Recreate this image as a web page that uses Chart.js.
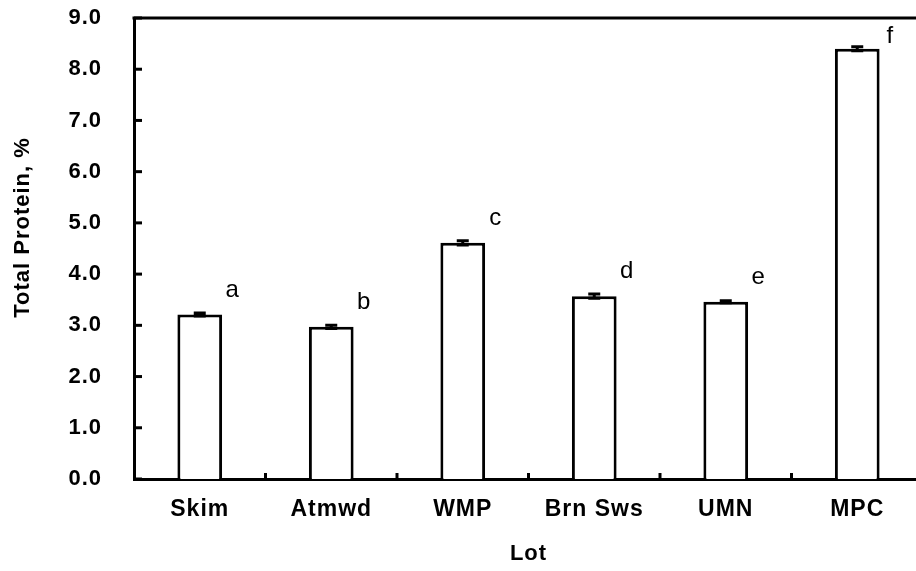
<!DOCTYPE html>
<html>
<head>
<meta charset="utf-8">
<title>Total Protein by Lot</title>
<script src="https://cdn.jsdelivr.net/npm/chart.js@4/dist/chart.umd.min.js"></script>
<style>
  html, body { margin: 0; padding: 0; background: #fff; overflow: hidden; }
  #wrap { width: 930px; height: 571px; }
</style>
</head>
<body>
<div id="wrap"><canvas id="proteinChart" width="930" height="571"></canvas></div>
<script>
// Total protein per lot, with standard error and significance letters
const lots = ['Skim', 'Atmwd', 'WMP', 'Brn Sws', 'UMN', 'MPC'];
const protein = [3.21, 2.97, 4.61, 3.57, 3.46, 8.40];
const proteinErr = [0.03, 0.03, 0.04, 0.04, 0.02, 0.04];
const groupLetters = ['a', 'b', 'c', 'd', 'e', 'f'];
const yTicks = [0, 1, 2, 3, 4, 5, 6, 7, 8, 9];
const yTitle = 'Total Protein, %';

const FONT = '"Liberation Sans", Arial, Helvetica, sans-serif';

// slightly wide lettering for all text on the canvas
const spacing = {
  id: 'spacing',
  beforeInit(chart) { chart.ctx.letterSpacing = '1px'; },
  beforeDraw(chart) { chart.ctx.letterSpacing = '1px'; }
};

// error bars, letters, inward ticks, y title and the top frame line
const extras = {
  id: 'extras',
  afterDatasetsDraw(chart) {
    const ctx = chart.ctx;
    const x = chart.scales.x;
    const y = chart.scales.y;
    const area = chart.chartArea;
    const meta = chart.getDatasetMeta(0);

    ctx.save();
    ctx.strokeStyle = '#000';
    ctx.lineCap = 'butt';

    // error bars
    ctx.lineWidth = 3;
    meta.data.forEach((bar, i) => {
      const cx = bar.x;
      const hi = y.getPixelForValue(protein[i] + proteinErr[i]);
      const lo = y.getPixelForValue(protein[i] - proteinErr[i]);
      ctx.beginPath();
      ctx.moveTo(cx, hi); ctx.lineTo(cx, lo);
      ctx.moveTo(cx - 6, hi); ctx.lineTo(cx + 6, hi);
      ctx.moveTo(cx - 6, lo); ctx.lineTo(cx + 6, lo);
      ctx.stroke();
    });

    // significance letters
    ctx.fillStyle = '#000';
    ctx.font = '24px ' + FONT;
    ctx.textAlign = 'center';
    ctx.textBaseline = 'alphabetic';
    meta.data.forEach((bar, i) => {
      const top = y.getPixelForValue(protein[i]);
      const ty = Math.max(top - 18, area.top + 25);
      ctx.fillText(groupLetters[i], bar.x + 33, ty);
    });

    // y ticks pointing into the plot
    ctx.lineWidth = 3;
    yTicks.forEach(v => {
      const py = y.getPixelForValue(v);
      ctx.beginPath();
      ctx.moveTo(area.left, py);
      ctx.lineTo(area.left + 8, py);
      ctx.stroke();
    });

    // x ticks between categories
    for (let i = 1; i < lots.length; i++) {
      const px = (x.getPixelForValue(i - 1) + x.getPixelForValue(i)) / 2;
      ctx.beginPath();
      ctx.moveTo(px, area.bottom);
      ctx.lineTo(px, area.bottom - 6);
      ctx.stroke();
    }

    // top frame line
    ctx.beginPath();
    ctx.moveTo(area.left - 1.5, area.top);
    ctx.lineTo(area.right, area.top);
    ctx.stroke();

    // y axis title, sitting a little above the middle of the axis
    ctx.translate(23, (area.top + area.bottom) / 2 - 21);
    ctx.rotate(-Math.PI / 2);
    ctx.font = 'bold 22px ' + FONT;
    ctx.textAlign = 'center';
    ctx.textBaseline = 'middle';
    ctx.fillText(yTitle, 0, 0);
    ctx.restore();
  }
};

new Chart(document.getElementById('proteinChart'), {
  type: 'bar',
  data: {
    labels: lots,
    datasets: [{
      label: 'Total Protein',
      data: protein,
      backgroundColor: '#fff',
      borderColor: '#000',
      borderWidth: { top: 3, left: 3, right: 3, bottom: 0 },
      borderSkipped: 'bottom',
      barPercentage: 0.34,
      categoryPercentage: 1
    }]
  },
  options: {
    responsive: false,
    animation: false,
    devicePixelRatio: 1,
    layout: { padding: { top: 18, right: 7, left: 0, bottom: 0 } },
    plugins: {
      legend: { display: false },
      tooltip: { enabled: false }
    },
    scales: {
      x: {
        grid: { display: false, drawTicks: false },
        border: { display: true, color: '#000', width: 3 },
        ticks: {
          color: '#000',
          padding: 17,
          font: { family: FONT, size: 23, weight: 'bold' }
        },
        title: {
          display: true,
          text: 'Lot',
          color: '#000',
          padding: { top: 13 },
          font: { family: FONT, size: 22, weight: 'bold' }
        },
        afterFit(scale) { scale.height = 92; }
      },
      y: {
        min: 0,
        max: 9,
        grid: { display: false, drawTicks: false },
        border: { display: true, color: '#000', width: 3 },
        afterBuildTicks(scale) { scale.ticks = yTicks.map(v => ({ value: v })); },
        ticks: {
          color: '#000',
          padding: 32,
          font: { family: FONT, size: 22, weight: 'bold' },
          callback: v => Number(v).toFixed(1)
        },
        afterFit(scale) {
          scale.width = 134;
          scale.paddingTop = 0;
          scale.paddingBottom = 0;
        }
      }
    }
  },
  plugins: [spacing, extras]
});
</script>
</body>
</html>
